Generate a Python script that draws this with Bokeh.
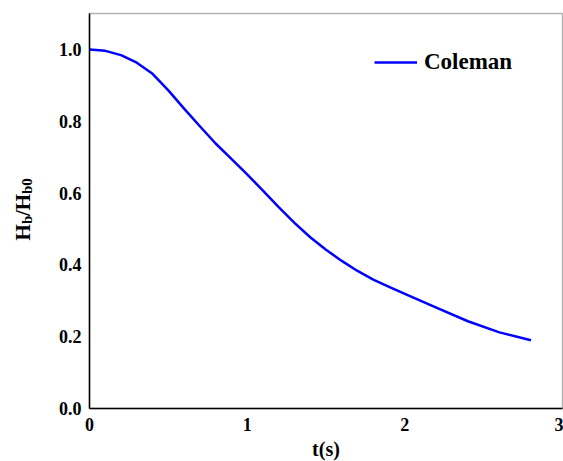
import numpy as np
from bokeh.plotting import figure
from bokeh.models import Range1d, FixedTicker, Label, Legend, LegendItem, BoxAnnotation
from bokeh.embed import file_html
from bokeh.resources import INLINE

# ---- data ----
t_s = [0.0, 0.1, 0.2, 0.3, 0.4, 0.5, 0.6, 0.7, 0.8, 0.9, 1.0, 1.1, 1.2, 1.3, 1.4,
       1.5, 1.6, 1.7, 1.8, 1.9, 2.0, 2.2, 2.4, 2.6, 2.8]
hb_ratio = [1.0, 0.996, 0.984, 0.963, 0.932, 0.886, 0.835, 0.786, 0.738, 0.695, 0.652, 0.607, 0.561, 0.517, 0.477,
            0.442, 0.411, 0.383, 0.359, 0.339, 0.319, 0.281, 0.243, 0.212, 0.19]
series_name = "Coleman"
x_ticks = [0, 1, 2, 3]
x_tick_labels = ["0", "1", "2", "3"]
y_ticks = [0.0, 0.2, 0.4, 0.6, 0.8, 1.0]
y_tick_labels = ["0.0", "0.2", "0.4", "0.6", "0.8", "1.0"]
x_lim = (0, 3)
y_lim = (0, 1.1)

FONT = "Liberation Serif"
W, H = 563, 461
# pixel box of the data area inside the canvas
PL, PR, PT, PB = 89, 562, 13, 408
sx = (PR - PL) / (x_lim[1] - x_lim[0])
sy = (PB - PT) / (y_lim[1] - y_lim[0])

p = figure(width=W, height=H, output_backend="svg", toolbar_location=None,
           x_range=Range1d(x_lim[0] - PL / sx, x_lim[1] + (W - PR) / sx),
           y_range=Range1d(y_lim[0] - (H - PB) / sy, y_lim[1] + PT / sy),
           min_border_left=0, min_border_right=0, min_border_top=0, min_border_bottom=0)
p.background_fill_color = "white"
p.border_fill_color = "white"
p.outline_line_color = None
p.xgrid.visible = False
p.ygrid.visible = False

for ax, ticks, labels, lim in ((p.xaxis[0], x_ticks, x_tick_labels, x_lim),
                               (p.yaxis[0], y_ticks, y_tick_labels, y_lim)):
    ax.ticker = FixedTicker(ticks=ticks)
    ax.major_label_overrides = {tk: lb for tk, lb in zip(ticks, labels)}
    ax.fixed_location = 0
    ax.bounds = lim
    ax.major_tick_in = 0
    ax.major_tick_out = 0
    ax.minor_tick_in = 0
    ax.minor_tick_out = 0
    ax.axis_line_color = "black"
    ax.axis_line_width = 1.5
    ax.major_label_text_font = FONT
    ax.major_label_text_font_style = "bold"
    ax.major_label_text_font_size = "18px"
    ax.major_label_text_color = "black"
p.xaxis.major_label_standoff = 9
p.yaxis.major_label_standoff = 8
p.xaxis.axis_label = "t(s)"
p.xaxis.axis_label_text_font = FONT
p.xaxis.axis_label_text_font_style = "bold"
p.xaxis.axis_label_text_font_size = "20px"
p.xaxis.axis_label_text_color = "black"
p.xaxis.axis_label_standoff = 4

# frame border (top / right sides)
p.add_layout(BoxAnnotation(left=x_lim[0], right=x_lim[1], bottom=y_lim[0], top=y_lim[1],
                           fill_alpha=0, line_color="black", line_width=1.5, level="underlay"))

r = p.line(t_s, hb_ratio, line_color="#0000FF", line_width=2.5, line_join="round")

legend = Legend(items=[LegendItem(label=series_name, renderers=[r])],
                location=(374, 386), border_line_color=None, background_fill_alpha=0,
                padding=0, spacing=0, margin=0, glyph_width=43, label_standoff=7,
                label_text_font=FONT, label_text_font_style="bold", label_text_font_size="23px",
                label_text_color="black")
p.add_layout(legend)

# y-axis title: H_b / H_b0 (rotated), screen coords from bottom-left
bx = 22
parts = [("H", 240, 0, "21px"), ("b", 223.5, 4, "15px"), ("/H", 215.5, 0, "21px"), ("b0", 193.5, 4, "15px")]
for txt, ys, dx, fs in parts:
    p.add_layout(Label(x=bx + dx, y=H - ys, x_units="screen", y_units="screen", text=txt,
                       angle=np.pi / 2, text_font=FONT, text_font_style="bold", text_font_size=fs,
                       text_align="left", text_baseline="alphabetic", text_color="black"))

open("out.html", "w").write(file_html(p, INLINE))
